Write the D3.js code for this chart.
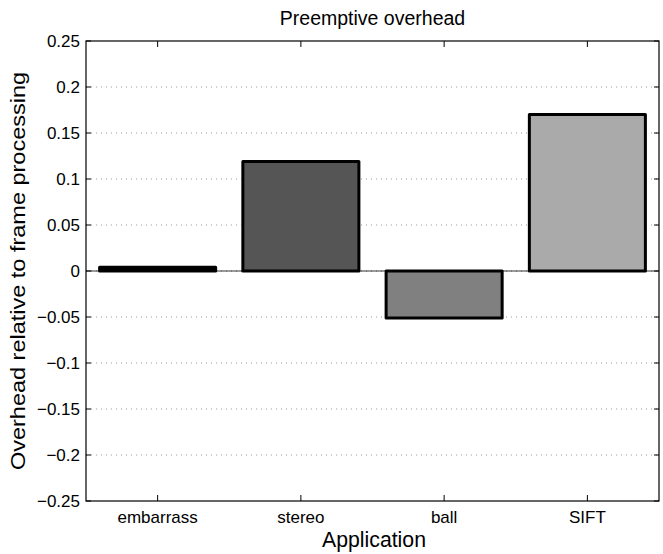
<!DOCTYPE html>
<html>
<head>
<meta charset="utf-8">
<script src="https://cdn.jsdelivr.net/npm/d3@7"></script>
<style>
body { margin: 0; background: #fff; }
text { font-family: "Liberation Sans", Arial, sans-serif; }
</style>
</head>
<body>
<div id="chart"></div>
<script>
var categories = ["embarrass", "stereo", "ball", "SIFT"]
var overhead = [0.004, 0.119, -0.051, 0.17]
var fills = ["#000000", "#555555", "#808080", "#aaaaaa"]
var yTicks = [-0.25, -0.2, -0.15, -0.1, -0.05, 0, 0.05, 0.1, 0.15, 0.2, 0.25]

var W = 663, H = 554,
	plotL = 86, plotR = 659, plotT = 41, plotB = 501

var svg = d3.select("#chart").append("svg")
	.attr("width", W)
	.attr("height", H)

var y = d3.scaleLinear().domain([-0.25, 0.25]).range([plotB, plotT])

// matlab-style: each category gets an equal slot, bar is 0.8 of it
var x = d3.scaleBand().domain(categories).range([plotL, plotR])
var cx = function(c){ return x(c) + x.bandwidth() / 2 }
var barW = x.bandwidth() * 0.81

// dotted grid
svg.selectAll(".grid")
	.data(yTicks.filter(function(d){ return d != -0.25 && d != 0.25 }))
	.enter()
	.append("line")
	.attr("class", "grid")
	.attr("x1", plotL).attr("x2", plotR)
	.attr("y1", function(d){ return y(d) }).attr("y2", function(d){ return y(d) })
	.attr("stroke", "#999")
	.attr("stroke-width", 1)
	.attr("stroke-dasharray", "1,4")

// zero baseline
svg.append("line")
	.attr("x1", plotL).attr("x2", plotR)
	.attr("y1", y(0)).attr("y2", y(0))
	.attr("stroke", "#000")
	.attr("stroke-width", 0.8)

svg.selectAll(".bar")
	.data(overhead)
	.enter()
	.append("rect")
	.attr("class", "bar")
	.attr("x", function(d,i){ return cx(categories[i]) - barW/2 })
	.attr("width", barW)
	.attr("y", function(d){ return y(Math.max(0, d)) })
	.attr("height", function(d){ return Math.abs(y(d) - y(0)) })
	.attr("fill", function(d,i){ return fills[i] })
	.attr("stroke", "#000")
	.attr("stroke-width", 3)
	.attr("stroke-linejoin", "round")

// box
svg.append("rect")
	.attr("x", plotL).attr("y", plotT)
	.attr("width", plotR - plotL).attr("height", plotB - plotT)
	.attr("fill", "none")
	.attr("stroke", "#000")
	.attr("stroke-width", 1.2)

// y ticks on both sides
yTicks.forEach(function(t){
	svg.append("line").attr("x1", plotL).attr("x2", plotL + 5)
		.attr("y1", y(t)).attr("y2", y(t)).attr("stroke", "#000")
	svg.append("line").attr("x1", plotR).attr("x2", plotR - 5)
		.attr("y1", y(t)).attr("y2", y(t)).attr("stroke", "#000")
	svg.append("text")
		.attr("x", plotL - 6)
		.attr("y", y(t) + 5.5)
		.attr("text-anchor", "end")
		.attr("font-size", 17)
		.text(t == 0 ? "0" : (t < 0 ? "\u2212" + d3.format("")(-t) : d3.format("")(t)))
})

// x ticks top and bottom
categories.forEach(function(c){
	svg.append("line").attr("x1", cx(c)).attr("x2", cx(c))
		.attr("y1", plotB).attr("y2", plotB - 6).attr("stroke", "#000")
	svg.append("line").attr("x1", cx(c)).attr("x2", cx(c))
		.attr("y1", plotT).attr("y2", plotT + 6).attr("stroke", "#000")
	svg.append("text")
		.attr("x", cx(c))
		.attr("y", plotB + 22)
		.attr("text-anchor", "middle")
		.attr("font-size", 17)
		.text(c)
})

svg.append("text")
	.attr("x", (plotL + plotR) / 2)
	.attr("y", 25)
	.attr("text-anchor", "middle")
	.attr("font-size", 19.5)
	.text("Preemptive overhead")

svg.append("text")
	.attr("x", 374)
	.attr("y", 547)
	.attr("text-anchor", "middle")
	.attr("font-size", 22)
	.attr("textLength", 104)
	.attr("lengthAdjust", "spacingAndGlyphs")
	.text("Application")

svg.append("text")
	.attr("transform", "translate(25,271) rotate(-90)")
	.attr("text-anchor", "middle")
	.attr("font-size", 21)
	.attr("textLength", 398)
	.attr("lengthAdjust", "spacingAndGlyphs")
	.text("Overhead relative to frame processing")
</script>
</body>
</html>
